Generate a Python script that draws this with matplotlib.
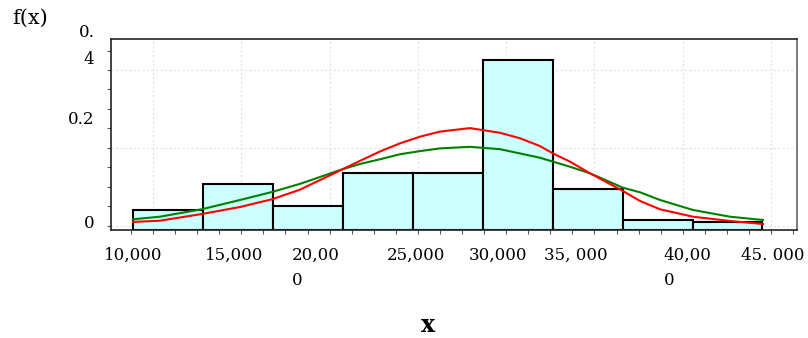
import numpy as np
import matplotlib
matplotlib.use("Agg")
import matplotlib.pyplot as plt
import matplotlib.transforms as mtrans
from matplotlib.ticker import MultipleLocator

# histogram bins (lower/upper edges) and relative frequencies
bin_edges = [8870, 12830, 16790, 20750, 24710, 28670, 32630, 36590, 40550, 44510]
rel_freq = [0.041, 0.108, 0.052, 0.137, 0.137, 0.426, 0.095, 0.015, 0.010]

# fitted density curves, read point by point
curve_x = [8870, 10400, 12780, 14930, 16740, 18320, 20760, 21720, 22850, 23990,
           25120, 26250, 27950, 29650, 30780, 31910, 32650, 33610, 34750, 36610,
           37580, 38710, 40580, 42670, 44540]
red_fx = [0.0103, 0.0136, 0.0308, 0.0487, 0.0685, 0.0931, 0.146, 0.167, 0.191, 0.212,
          0.229, 0.242, 0.251, 0.239, 0.225, 0.205, 0.186, 0.165, 0.135, 0.0897,
          0.0641, 0.0428, 0.0238, 0.0128, 0.0051]
green_fx = [0.0172, 0.0238, 0.0431, 0.0667, 0.0872, 0.108, 0.146, 0.159, 0.171, 0.184,
            0.192, 0.199, 0.203, 0.197, 0.186, 0.175, 0.165, 0.152, 0.135, 0.0982,
            0.0864, 0.0667, 0.0410, 0.0238, 0.0154]

x_ticks = [10000, 15000, 20000, 25000, 30000, 35000, 40000, 45000]
x_ticklabels = ["10,000", "15,000", "20,00\n0", "25,000", "30,000", "35, 000", "40,00\n0", "45. 000"]
y_ticks = [0, 0.2, 0.4]
y_ticklabels = ["0", "0.2", "0.\n4"]

plt.rcParams['font.family'] = ['DejaVu Serif']

fig = plt.figure(figsize=(8.08, 3.38), dpi=100)
ax = fig.add_axes([111/808, 108/338, 686/808, 191/338])

ymin = -0.0103
widths = np.diff(bin_edges)
heights = np.array(rel_freq) - ymin
ax.bar(bin_edges[:-1], heights, width=widths, bottom=ymin, align='edge',
       color='#ccffff', edgecolor='black', linewidth=1.5, zorder=2)

ax.plot(curve_x, green_fx, color='#008000', lw=1.5, zorder=3, solid_joinstyle='round')
ax.plot(curve_x, red_fx, color='#ff0000', lw=1.5, zorder=4, solid_joinstyle='round')

ax.set_xlim(7622, 46467)
ax.set_ylim(ymin, 0.4795)

ax.set_xticks(x_ticks)
ax.set_xticklabels(x_ticklabels, fontsize=12)
ax.set_yticks(y_ticks)
ax.set_yticklabels(y_ticklabels, fontsize=12)
ax.xaxis.set_minor_locator(MultipleLocator(1250))
ax.yaxis.set_minor_locator(MultipleLocator(0.05))
ax.tick_params(which='both', length=3, width=0.8, color='#555555')
ax.tick_params(axis='x', pad=9)
ax.tick_params(axis='y', pad=9)

ax.grid(True, which='major', color='#e2e2e2', linestyle=(0, (2, 2)), linewidth=0.8, zorder=0)
ax.set_axisbelow(True)

for sp in ax.spines.values():
    sp.set_color('#222222')
    sp.set_linewidth(1.2)
ax.spines['right'].set_color('#666666')

# nudge tick labels (pixels) the way the labels sit in the original layout
x_shift = [-20, -7, -14, -2, -8, -19, 5, 2]
for lab, dx in zip(ax.get_xticklabels(), x_shift):
    lab.set_multialignment('left')
    lab.set_linespacing(1.65)
    lab.set_transform(lab.get_transform() + mtrans.ScaledTranslation(dx/100, 0, fig.dpi_scale_trans))

y_shift = [4, 30, 31]
for lab, dy in zip(ax.get_yticklabels(), y_shift):
    lab.set_multialignment('right')
    lab.set_linespacing(1.75)
    lab.set_transform(lab.get_transform() + mtrans.ScaledTranslation(0, dy/100, fig.dpi_scale_trans))

fig.text(30/808, 1 - 18/338, "f(x)", fontsize=15, ha='center', va='center')
fig.text(428/808, 1 - 325/338, "x", fontsize=17, fontweight='bold', ha='center', va='center')

fig.savefig("out.png", dpi=100)
